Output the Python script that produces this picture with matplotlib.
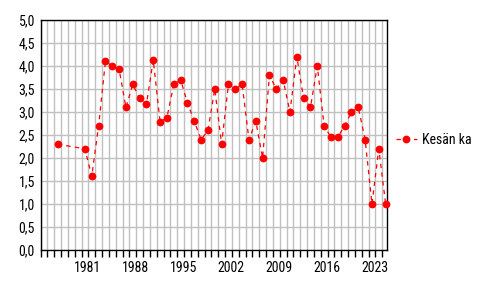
import matplotlib
matplotlib.use('Agg')
import matplotlib.pyplot as plt
from matplotlib.ticker import FixedLocator, MultipleLocator, FuncFormatter

plt.rcParams['font.family'] = ['Roboto Condensed', 'Liberation Sans', 'DejaVu Sans']
plt.rcParams['font.size'] = 10

# summer mean values, one per year (1978-1980 missing)
years = [1977, 1981, 1982, 1983, 1984, 1985, 1986, 1987, 1988, 1989, 1990,
         1991, 1992, 1993, 1994, 1995, 1996, 1997, 1998, 1999, 2000,
         2001, 2002, 2003, 2004, 2005, 2006, 2007, 2008, 2009, 2010,
         2011, 2012, 2013, 2014, 2015, 2016, 2017, 2018, 2019, 2020,
         2021, 2022, 2023, 2024, 2025]
values = [2.3, 2.2, 1.6, 2.7, 4.1, 4.0, 3.93, 3.1, 3.6, 3.3, 3.17,
          4.13, 2.78, 2.88, 3.6, 3.7, 3.2, 2.8, 2.4, 2.6, 3.5,
          2.3, 3.6, 3.5, 3.6, 2.4, 2.8, 2.0, 3.8, 3.5, 3.7,
          3.0, 4.2, 3.3, 3.1, 4.0, 2.7, 2.45, 2.45, 2.7, 3.0,
          3.1, 2.4, 1.0, 2.2, 1.0]
label_years = [1981, 1988, 1995, 2002, 2009, 2016, 2023]
series_name = 'Kesän ka'

fig = plt.figure(figsize=(4.96, 2.96), dpi=100)
ax = fig.add_axes([40.5 / 496, 1 - 250 / 296, 346.5 / 496, 230 / 296])

# points sit in the middle of each year, grid on year boundaries
xs = [y + 0.5 for y in years]
ax.plot(xs, values, color='#ff0000', lw=0.9, dashes=(3.5, 3.5),
        marker='o', markersize=5.6, markeredgewidth=0,
        label=series_name, clip_on=False, zorder=3)

ax.set_xlim(1975, 2025.7)
ax.set_ylim(0, 5)

ax.xaxis.set_minor_locator(FixedLocator(list(range(1975, 2026))))
ax.xaxis.set_major_locator(FixedLocator([y + 0.9 for y in label_years]))
ax.xaxis.set_major_formatter(FuncFormatter(lambda v, p: str(int(v))))
ax.tick_params(axis='x', which='major', length=0, pad=8, colors='black')
ax.tick_params(axis='x', which='minor', length=5, width=1.0, direction='out')

ax.yaxis.set_major_locator(MultipleLocator(0.5))
ax.yaxis.set_major_formatter(FuncFormatter(lambda v, p: ('%.1f' % v).replace('.', ',')))
ax.tick_params(axis='y', length=0, pad=4)

ax.grid(True, which='minor', axis='x', color='#c0c0c0', lw=1.0)
ax.grid(True, which='major', axis='y', color='#c0c0c0', lw=1.0)
ax.set_axisbelow(True)
for s in ax.spines.values():
    s.set_linewidth(1.0)
    s.set_color('black')

fig.legend(loc='center left', bbox_to_anchor=(396 / 496, 1 - 140 / 296),
           frameon=False, borderpad=0, borderaxespad=0,
           handlelength=1.5, handletextpad=0.4)

fig.savefig('out.png', dpi=100)
